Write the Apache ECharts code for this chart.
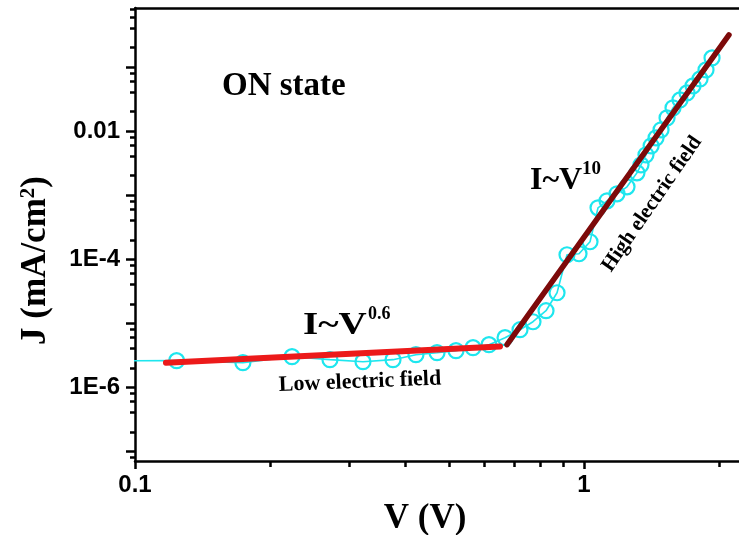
<!DOCTYPE html>
<html><head><meta charset="utf-8">
<script src="https://cdn.jsdelivr.net/npm/echarts@6/dist/echarts.min.js"></script>
<style>html,body{margin:0;padding:0;background:#fff}#c{width:739px;height:535px}</style>
</head><body><div id="c"></div>
<script>
// Measured J-V data (ON state)
const voltage = [0.075, 0.1238, 0.1739, 0.2237, 0.2718, 0.3219, 0.3755, 0.4224, 0.4706, 0.5187, 0.5660, 0.6143, 0.6670, 0.7202, 0.7698, 0.8230, 0.8708, 0.9164, 0.9747, 1.0313, 1.0745, 1.1252, 1.1844, 1.2467, 1.3122, 1.3394, 1.374, 1.411, 1.4469, 1.4843, 1.5308, 1.5784, 1.6361, 1.6959, 1.7490, 1.8130, 1.8694, 1.9281];
const current = [2.59e-6, 2.591e-6, 2.411e-6, 2.990e-6, 2.686e-6, 2.498e-6, 2.686e-6, 3.214e-6, 3.453e-6, 3.710e-6, 4.132e-6, 4.603e-6, 5.918e-6, 7.888e-6, 1.051e-5, 1.561e-5, 2.980e-5, 1.167e-4, 1.210e-4, 1.862e-4, 6.315e-4, 8.118e-4, 1.044e-3, 1.342e-3, 2.220e-3, 2.958e-3, 4.236e-3, 5.855e-3, 7.807e-3, 1.040e-2, 1.601e-2, 2.293e-2, 3.056e-2, 3.929e-2, 5.053e-2, 6.498e-2, 8.978e-2, 0.1381];
// Fit lines
const lowFitV = [0.1172, 0.650];
const lowFitJ = [2.411e-6, 4.329e-6];
const highFitV = [0.6738, 2.103];
const highFitJ = [4.603e-6, 0.3156];
// Ticks
const xLabelTicks = [0.1, 1];
const xTickLabels = ['0.1', '1'];
const xMinorTicks = [0.2, 0.3, 0.4, 0.5, 0.6, 0.7, 0.8, 0.9, 2];
const yMajorTicks = [1e-7, 1e-6, 1e-5, 1e-4, 1e-3, 1e-2, 1e-1];
const yLabelTicks = [1e-6, 1e-4, 1e-2];
const yTickLabels = ['1E-6', '1E-4', '0.01'];
const yMinorTicks = [8e-8, 2e-7, 4e-7, 6e-7, 8e-7, 2e-6, 4e-6, 6e-6, 8e-6, 2e-5, 4e-5, 6e-5, 8e-5, 2e-4, 4e-4, 6e-4, 8e-4, 2e-3, 4e-3, 6e-3, 8e-3, 2e-2, 4e-2, 6e-2, 8e-2, 2e-1, 4e-1, 6e-1, 8e-1];

const X_MIN = 0.1, X_MAX = 2.214, Y_MIN = 7.03e-8, Y_MAX = 0.832;
const cyan = '#1ee6ee';
const serif = '"Liberation Serif", "Times New Roman", serif';
const sans = '"Liberation Sans", Arial, sans-serif';

function pickLabel(ticks, labels) {
  return function (v) {
    for (let i = 0; i < ticks.length; i++) {
      if (Math.abs(Math.log10(v) - Math.log10(ticks[i])) < 1e-6) return labels[i];
    }
    return '';
  };
}

const axisLineStyle = { color: '#000', width: 2.5 };
const chart = echarts.init(document.getElementById('c'), null, { renderer: 'canvas' });
chart.setOption({
  animation: false,
  backgroundColor: '#fff',
  grid: { left: 135, right: 0, top: 8, bottom: 74, containLabel: false, outerBoundsMode: 'none' },
  xAxis: [
    {
      type: 'log', min: X_MIN, max: X_MAX, position: 'bottom',
      axisLine: { show: true, onZero: false, lineStyle: axisLineStyle },
      axisTick: { show: true, inside: false, length: 8, lineStyle: { color: '#000', width: 2.5 }, customValues: xLabelTicks },
      axisLabel: { show: true, margin: 12, customValues: xLabelTicks, formatter: pickLabel(xLabelTicks, xTickLabels), color: '#000', fontFamily: sans, fontWeight: 'bold', fontSize: 24 },
      splitLine: { show: false },
      name: 'V (V)', nameLocation: 'middle', nameGap: 34,
      nameTextStyle: { fontFamily: serif, fontWeight: 'bold', fontSize: 35, color: '#000', padding: [0, 24, 0, 0] }
    },
    {
      type: 'log', min: X_MIN, max: X_MAX, position: 'bottom',
      axisLine: { show: false, onZero: false },
      axisTick: { show: true, inside: false, length: 6, lineStyle: { color: '#000', width: 2.5 }, customValues: xMinorTicks },
      axisLabel: { show: false },
      splitLine: { show: false }
    },
    {
      type: 'log', min: X_MIN, max: X_MAX, position: 'top',
      axisLine: { show: true, onZero: false, lineStyle: axisLineStyle },
      axisTick: { show: false },
      axisLabel: { show: false },
      splitLine: { show: false }
    }
  ],
  yAxis: [
    {
      type: 'log', min: Y_MIN, max: Y_MAX, position: 'left',
      axisLine: { show: true, onZero: false, lineStyle: axisLineStyle },
      axisTick: { show: true, inside: false, length: 9, lineStyle: { color: '#000', width: 2.5 }, customValues: yMajorTicks },
      axisLabel: { show: true, margin: 15, customValues: yLabelTicks, formatter: pickLabel(yLabelTicks, yTickLabels), color: '#000', fontFamily: sans, fontWeight: 'bold', fontSize: 24 },
      splitLine: { show: false },
      name: 'J (mA/cm{s|2})', nameLocation: 'middle', nameGap: 82,
      nameTextStyle: {
        fontFamily: serif, fontWeight: 'bold', fontSize: 35, color: '#000', padding: [0, 52, 0, 0],
        rich: { s: { fontFamily: serif, fontWeight: 'bold', fontSize: 21, color: '#000', verticalAlign: 'top', padding: [0, 0, 14, 0] } }
      }
    },
    {
      type: 'log', min: Y_MIN, max: Y_MAX, position: 'left',
      axisLine: { show: false, onZero: false },
      axisTick: { show: true, inside: false, length: 5, lineStyle: { color: '#000', width: 2.5 }, customValues: yMinorTicks },
      axisLabel: { show: false },
      splitLine: { show: false }
    }
  ],
  series: [
    {
      name: 'ON state', type: 'line', xAxisIndex: 0, yAxisIndex: 0,
      data: voltage.map((v, i) => [v, current[i]]),
      symbol: 'circle', symbolSize: 15, showAllSymbol: true, clip: true,
      itemStyle: { color: 'rgba(255,255,255,0)', borderColor: cyan, borderWidth: 2.2 },
      lineStyle: { color: cyan, width: 1.6 },
      emphasis: { disabled: true }, z: 2
    },
    {
      name: 'I~V^0.6', type: 'line', xAxisIndex: 0, yAxisIndex: 0,
      data: lowFitV.map((v, i) => [v, lowFitJ[i]]),
      symbol: 'none', lineStyle: { color: '#ec1a1a', width: 6, cap: 'round' },
      emphasis: { disabled: true }, z: 3
    },
    {
      name: 'I~V^10', type: 'line', xAxisIndex: 0, yAxisIndex: 0,
      data: highFitV.map((v, i) => [v, highFitJ[i]]),
      symbol: 'none', lineStyle: { color: '#7d0a0a', width: 5.5, cap: 'round' },
      emphasis: { disabled: true }, z: 3
    }
  ],
  graphic: [
    { type: 'text', x: 222, y: 86, style: { text: 'ON state', font: 'bold 33px ' + serif, fill: '#000', align: 'left', verticalAlign: 'middle' } },
    { type: 'text', x: 303, y: 326, scaleX: 1.22, style: { text: 'I~V', font: 'bold 32px ' + serif, fill: '#000', align: 'left', verticalAlign: 'middle' } },
    { type: 'text', x: 368, y: 314, style: { text: '0.6', font: 'bold 18px ' + serif, fill: '#000', align: 'left', verticalAlign: 'middle' } },
    { type: 'text', x: 530, y: 181, style: { text: 'I~V', font: 'bold 32px ' + serif, fill: '#000', align: 'left', verticalAlign: 'middle' } },
    { type: 'text', x: 582, y: 169, style: { text: '10', font: 'bold 19px ' + serif, fill: '#000', align: 'left', verticalAlign: 'middle' } },
    { type: 'text', x: 360, y: 382, rotation: 0.04, style: { text: 'Low electric field', font: 'bold 22px ' + serif, fill: '#000', align: 'center', verticalAlign: 'middle' } },
    { type: 'text', x: 652, y: 204, rotation: 0.965, style: { text: 'High electric field', font: 'bold 21px ' + serif, fill: '#000', align: 'center', verticalAlign: 'middle' } }
  ]
});
</script>
</body></html>
